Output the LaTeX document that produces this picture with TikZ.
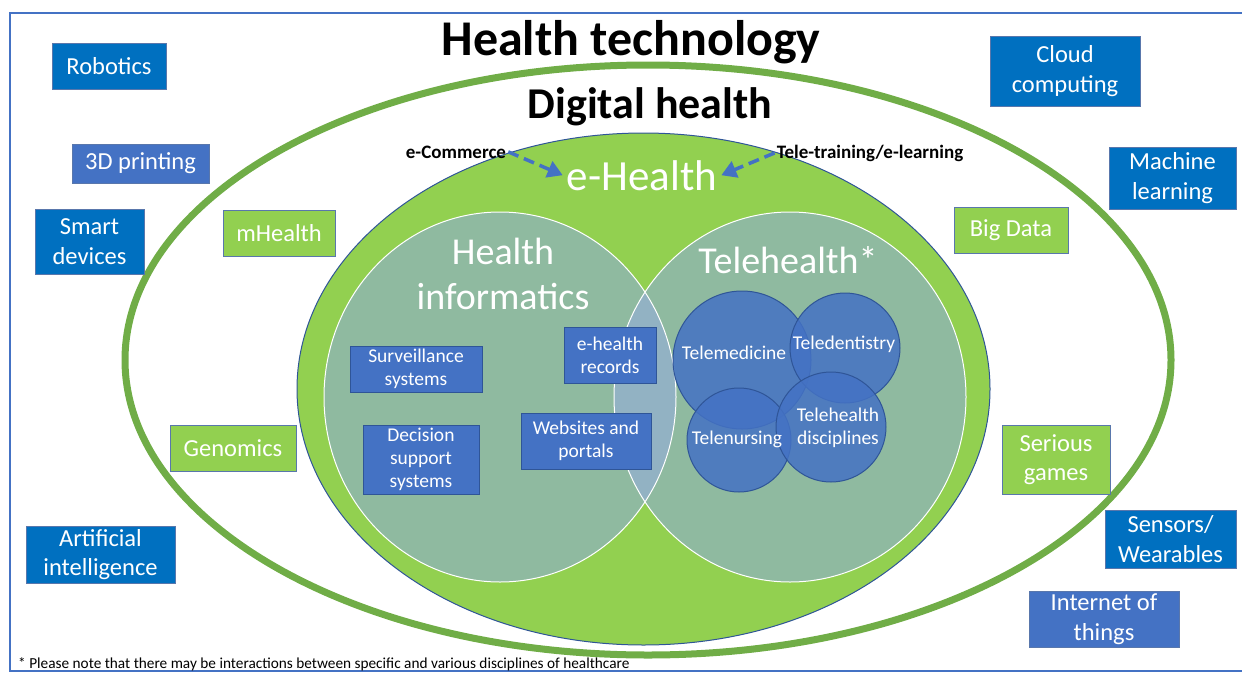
\documentclass[tikz,border=0pt]{standalone}
\usepackage{fontspec}
\setmainfont{Carlito}
\usetikzlibrary{shapes}
\usetikzlibrary{arrows.meta}
\definecolor{techblue}{HTML}{0070C0}
\definecolor{midblue}{HTML}{4472C4}
\definecolor{leafgreen}{HTML}{92D050}
\definecolor{ringgreen}{HTML}{70AD47}
\definecolor{venngrey}{HTML}{8FBAA0}
\definecolor{lensgrey}{HTML}{92B2C3}
\definecolor{edgeblue}{HTML}{2F5597}
\tikzset{
	box/.style = {rectangle, align=center, inner sep=0pt, text=white,
		draw=edgeblue!80, line width=0.8pt},
	tech_b/.style = {box, fill=techblue, font=\fontsize{24.5}{29.5}\selectfont},% technologie, bleu fonce
	tech_m/.style = {box, fill=midblue, font=\fontsize{24.5}{29.5}\selectfont},% technologie, bleu moyen
	dig_g/.style = {box, fill=leafgreen, font=\fontsize{24.5}{29.5}\selectfont},% sante numerique, vert
	inf_b/.style = {box, fill=midblue, draw=edgeblue,
		font=\fontsize{19.5}{23}\selectfont},% informatique, bleu
	tele_c/.style = {circle, draw=edgeblue, line width=1pt, fill=midblue,
		fill opacity=0.85},% telesante, cercle
	tele_t/.style = {align=center, text=white, inner sep=0pt,
		font=\fontsize{19.5}{23}\selectfont},% telesante, texte
	big_t/.style = {align=center, text=white, inner sep=0pt,
		font=\fontsize{38}{45}\selectfont},
	side_t/.style = {inner sep=2pt, font=\fontsize{19}{22}\selectfont\bfseries},
	feed/.style = {midblue, line width=3.5pt, dash pattern=on 11pt off 6pt,
		-{Triangle[length=15pt,width=17pt]}}
}

\begin{document}
\begin{tikzpicture}[x=1pt, y=-1pt]
	\useasboundingbox (0,0) rectangle (1242,672);
	\draw[midblue, line width=2.5pt] (10,13) rectangle (1300,671);
	% digital health, e-health
	\draw[ringgreen, line width=7pt] (648,360) ellipse [x radius=523pt, y radius=295pt];
	\draw[edgeblue, line width=1pt, fill=leafgreen] (643.5,389) ellipse [x radius=346.5pt, y radius=256pt];
	\fill[venngrey] (500,397) ellipse [x radius=176pt, y radius=185pt];
	\fill[venngrey] (790,397) ellipse [x radius=176pt, y radius=185pt];
	\begin{scope}
		\clip (500,397) ellipse [x radius=176pt, y radius=185pt];
		\fill[lensgrey] (790,397) ellipse [x radius=176pt, y radius=185pt];
	\end{scope}
	\draw[white, line width=1pt] (500,397) ellipse [x radius=176pt, y radius=185pt]
		(790,397) ellipse [x radius=176pt, y radius=185pt];

	\node[font=\fontsize{50}{60}\selectfont\bfseries, anchor=base] (htech) at (631,55) {Health technology};
	\node[font=\fontsize{44}{52}\selectfont\bfseries, anchor=base] (dhealth) at (650,118) {Digital health};
	\node[font=\fontsize{43}{50}\selectfont, text=white, inner sep=4pt, anchor=base] (ehealth) at (642,190) {e-Health};
	\node[side_t, anchor=base] (ecomm) at (456,158) {e-Commerce};
	\node[side_t, anchor=base] (etrain) at (870,158) {Tele-training/e-learning};
	\draw[feed] (ecomm.east) -- (ehealth.west);
	\draw[feed] (etrain.west) -- (ehealth.east);

	\node[big_t] (hinf) at (503,274) {Health\\informatics};
	\node[big_t, anchor=base] (thealth) at (788,273) {Telehealth*};

	% telesante
	\node[tele_c, minimum size=138pt] (tmed) at (742,360) {};
	\node[tele_c, minimum size=110pt] (tdent) at (845,348) {};
	\node[tele_c, minimum size=104pt] (tnurs) at (739,440) {};
	\node[tele_c, minimum size=110pt] (tdisc) at (831,427) {};
	\node[tele_t, anchor=base] (lmed) at (734,359) {Telemedicine};
	\node[tele_t, anchor=base] (ldent) at (844,349) {Teledentistry};
	\node[tele_t, anchor=base] (lnurs) at (737,444) {Telenursing};
	\node[tele_t] (ldisc) at (838,428) {Telehealth\\disciplines};

	% informatique
	\node[inf_b, minimum width=132, minimum height=46] (surv) at (416,369) {Surveillance\\systems};
	\node[inf_b, minimum width=116, minimum height=69] (decis) at (421,459.5) {Decision\\support\\systems};
	\node[inf_b, minimum width=92, minimum height=56] (ehrec) at (610,355) {e-health\\records};
	\node[inf_b, minimum width=130, minimum height=56] (webs) at (586,441) {Websites and\\portals};

	% sante numerique
	\node[dig_g, minimum width=112, minimum height=46] (mhealth) at (279,233) {mHealth};
	\node[dig_g, minimum width=126, minimum height=46] (genom) at (233,448) {Genomics};
	\node[dig_g, minimum width=114, minimum height=46] (bigdata) at (1011,230) {Big Data};
	\node[dig_g, minimum width=108, minimum height=69] (games) at (1056,459.5) {Serious\\games};

	% technologies
	\node[tech_b, minimum width=114, minimum height=46] (robot) at (109,66) {Robotics};
	\node[tech_m, minimum width=137, minimum height=39] (print) at (140.5,163.5) {3D printing};
	\node[tech_b, minimum width=109, minimum height=65] (smart) at (89.5,241.5) {Smart\\devices};
	\node[tech_b, minimum width=149, minimum height=57] (artint) at (100.5,554.5) {Artificial\\intelligence};
	\node[tech_b, minimum width=150, minimum height=70] (cloud) at (1065,71) {Cloud\\computing};
	\node[tech_b, minimum width=127, minimum height=62] (mlearn) at (1172.5,178) {Machine\\learning};
	\node[tech_b, minimum width=131, minimum height=58] (sensor) at (1170.5,539) {Sensors/\\Wearables};
	\node[tech_m, minimum width=150, minimum height=56] (iot) at (1104,619) {Internet of\\things};

	\node[anchor=base west, inner sep=0pt, font=\fontsize{15.3}{18}\selectfont] (note) at (18,668)
		{* Please note that there may be interactions between specific and various disciplines of healthcare};
\end{tikzpicture}
\end{document}
